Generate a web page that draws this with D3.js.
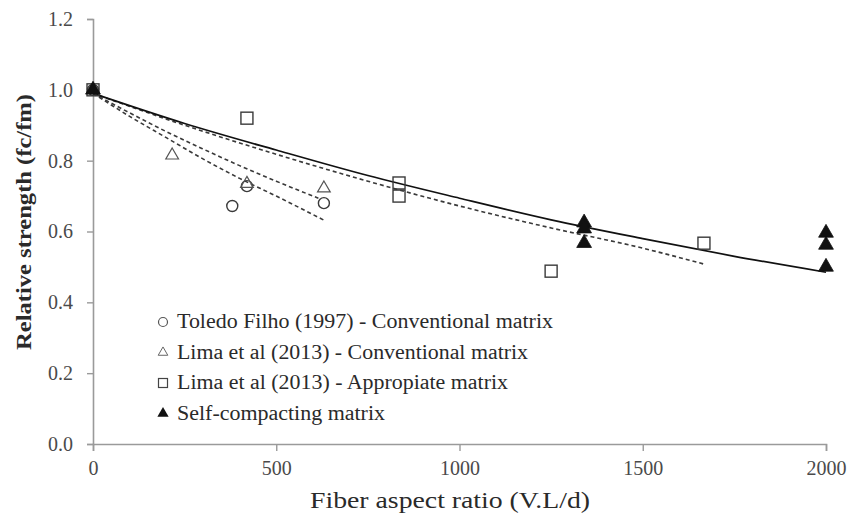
<!DOCTYPE html>
<html>
<head>
<meta charset="utf-8">
<script src="https://cdn.jsdelivr.net/npm/d3@7"></script>
<style>
  html, body { margin: 0; padding: 0; background: #fff; }
  svg { display: block; }
  svg text { font-family: "Liberation Serif", "Tinos", "Times New Roman", "DejaVu Serif", "Noto Serif", serif; }
</style>
</head>
<body>
<svg id="chart" width="852" height="526"></svg>
<script>
// Relative strength (fc/fm) versus fiber aspect ratio (V.L/d)
const xTicks = [0, 500, 1000, 1500, 2000];
const yTicks = [0.0, 0.2, 0.4, 0.6, 0.8, 1.0, 1.2];

// Measured points
const toledoX = [0, 380, 420, 630];
const toledoY = [1.0, 0.672, 0.728, 0.68];
const limaConvX = [0, 216, 420, 630];
const limaConvY = [1.0, 0.815, 0.735, 0.722];
const limaAppX = [0, 420, 835, 835, 1250, 1667];
const limaAppY = [1.0, 0.92, 0.737, 0.70, 0.488, 0.567];
const selfX = [0, 1340, 1340, 1340, 2000, 2000, 2000];
const selfY = [1.0, 0.625, 0.608, 0.567, 0.596, 0.562, 0.50];

// Trend curves
const selfFitX = [0, 250, 500, 750, 1000, 1250, 1500, 1750, 2000];
const selfFitY = [0.99, 0.905, 0.83, 0.758, 0.694, 0.633, 0.58, 0.53, 0.485];
const toledoFitX = [0, 100, 200, 300, 400, 500, 630];
const toledoFitY = [0.99, 0.925, 0.865, 0.805, 0.75, 0.70, 0.632];
const limaConvFitX = [0, 100, 200, 300, 400, 500, 615];
const limaConvFitY = [0.99, 0.935, 0.882, 0.833, 0.786, 0.742, 0.694];
const limaAppFitX = [0, 250, 500, 750, 1000, 1250, 1500, 1667];
const limaAppFitY = [0.99, 0.90, 0.818, 0.742, 0.672, 0.61, 0.553, 0.508];

const legendLabels = [
  "Toledo Filho (1997) - Conventional matrix",
  "Lima et al (2013) - Conventional matrix",
  "Lima et al (2013) - Appropiate matrix",
  "Self-compacting matrix"
];
const legendWidths = [376, 351, 331, 208];

const svg = d3.select("#chart");
const x = d3.scaleLinear().domain([0, 2000]).range([93, 826]);
const y = d3.scaleLinear().domain([0, 1.2]).range([444, 19]);

const serif = '"Liberation Serif", "Tinos", "Times New Roman", "DejaVu Serif", "Noto Serif", serif';
const axisColor = "#9a9a9a";
const tickTextColor = "#4a4a4a";

// Axes
const xAxis = svg.append("g").attr("transform", `translate(0,${y(0)})`)
  .call(d3.axisBottom(x).tickValues(xTicks).tickSize(7).tickPadding(10).tickFormat(d3.format("d")));
const yAxis = svg.append("g").attr("transform", `translate(${x(0)},0)`)
  .call(d3.axisLeft(y).tickValues(yTicks).tickSize(6).tickPadding(14).tickFormat(d3.format(".1f")));
[xAxis, yAxis].forEach(g => {
  g.attr("font-family", null);
  g.select(".domain").attr("stroke", axisColor).attr("stroke-width", 1.6);
  g.selectAll(".tick line").attr("stroke", axisColor).attr("stroke-width", 1.4);
  g.selectAll(".tick text").attr("fill", tickTextColor)
    .style("font-size", "20px").style("font-family", serif);
});

// Axis titles
svg.append("text")
  .attr("x", 450).attr("y", 508)
  .attr("text-anchor", "middle")
  .attr("fill", "#2a2a2a")
  .style("font-size", "24px")
  .attr("textLength", 280).attr("lengthAdjust", "spacingAndGlyphs")
  .text("Fiber aspect ratio (V.L/d)");
svg.append("text")
  .attr("transform", "translate(31,222) rotate(-90)")
  .attr("text-anchor", "middle")
  .attr("fill", "#2a2a2a")
  .style("font-size", "22px").style("font-weight", "bold")
  .attr("textLength", 256).attr("lengthAdjust", "spacingAndGlyphs")
  .text("Relative strength (fc/fm)");

// Trend lines
const line = d3.line().x(d => x(d[0])).y(d => y(d[1])).curve(d3.curveMonotoneX);
const zip = (a, b) => a.map((v, i) => [v, b[i]]);

[[toledoFitX, toledoFitY], [limaConvFitX, limaConvFitY], [limaAppFitX, limaAppFitY]].forEach(([xs, ys]) => {
  svg.append("path").datum(zip(xs, ys))
    .attr("d", line).attr("fill", "none")
    .attr("stroke", "#3a3a3a").attr("stroke-width", 1.6)
    .attr("stroke-dasharray", "4,3");
});
svg.append("path").datum(zip(selfFitX, selfFitY))
  .attr("d", line).attr("fill", "none")
  .attr("stroke", "#111").attr("stroke-width", 1.7);

// Markers
const markerStroke = "#3a3a3a";
function drawMarker(g, type, cx, cy) {
  if (type === "circle") {
    g.append("circle").attr("cx", cx).attr("cy", cy).attr("r", 5.5)
      .attr("fill", "none").attr("stroke", markerStroke).attr("stroke-width", 1.4);
  } else if (type === "triangle") {
    g.append("path").attr("transform", `translate(${cx},${cy})`)
      .attr("d", d3.symbol(d3.symbolTriangle, 70)())
      .attr("fill", "none").attr("stroke", "#555").attr("stroke-width", 1.2);
  } else if (type === "square") {
    g.append("rect").attr("x", cx - 6).attr("y", cy - 6).attr("width", 12).attr("height", 12)
      .attr("fill", "none").attr("stroke", markerStroke).attr("stroke-width", 1.4);
  } else {
    g.append("path").attr("transform", `translate(${cx},${cy})`)
      .attr("d", d3.symbol(d3.symbolTriangle, 95)())
      .attr("fill", "#111").attr("stroke", "#111").attr("stroke-width", 0.8);
  }
}
const marks = svg.append("g");
const seriesDefs = [
  ["circle", toledoX, toledoY],
  ["triangle", limaConvX, limaConvY],
  ["square", limaAppX, limaAppY],
  ["filled", selfX, selfY]
];
seriesDefs.forEach(([type, xs, ys]) => {
  xs.forEach((v, i) => drawMarker(marks, type, x(v), y(ys[i])));
});

// Legend
const legend = svg.append("g");
const legendTypes = ["circle", "triangle", "square", "filled"];
legendLabels.forEach((lab, i) => {
  const ly = 322 + i * 30.5;
  const g = legend.append("g");
  if (legendTypes[i] === "circle") {
    g.append("circle").attr("cx", 163).attr("cy", ly).attr("r", 4.5)
      .attr("fill", "none").attr("stroke", "#555").attr("stroke-width", 1.2);
  } else if (legendTypes[i] === "triangle") {
    g.append("path").attr("transform", `translate(163,${ly})`)
      .attr("d", d3.symbol(d3.symbolTriangle, 40)())
      .attr("fill", "none").attr("stroke", "#666").attr("stroke-width", 1);
  } else if (legendTypes[i] === "square") {
    g.append("rect").attr("x", 158.5).attr("y", ly - 4.5).attr("width", 9).attr("height", 9)
      .attr("fill", "none").attr("stroke", "#444").attr("stroke-width", 1.2);
  } else {
    g.append("path").attr("transform", `translate(163,${ly})`)
      .attr("d", d3.symbol(d3.symbolTriangle, 55)())
      .attr("fill", "#111");
  }
  g.append("text").attr("x", 177).attr("y", ly + 6)
    .attr("fill", "#2a2a2a").style("font-size", "20px")
    .attr("textLength", legendWidths[i]).attr("lengthAdjust", "spacingAndGlyphs")
    .text(lab);
});
</script>
</body>
</html>
